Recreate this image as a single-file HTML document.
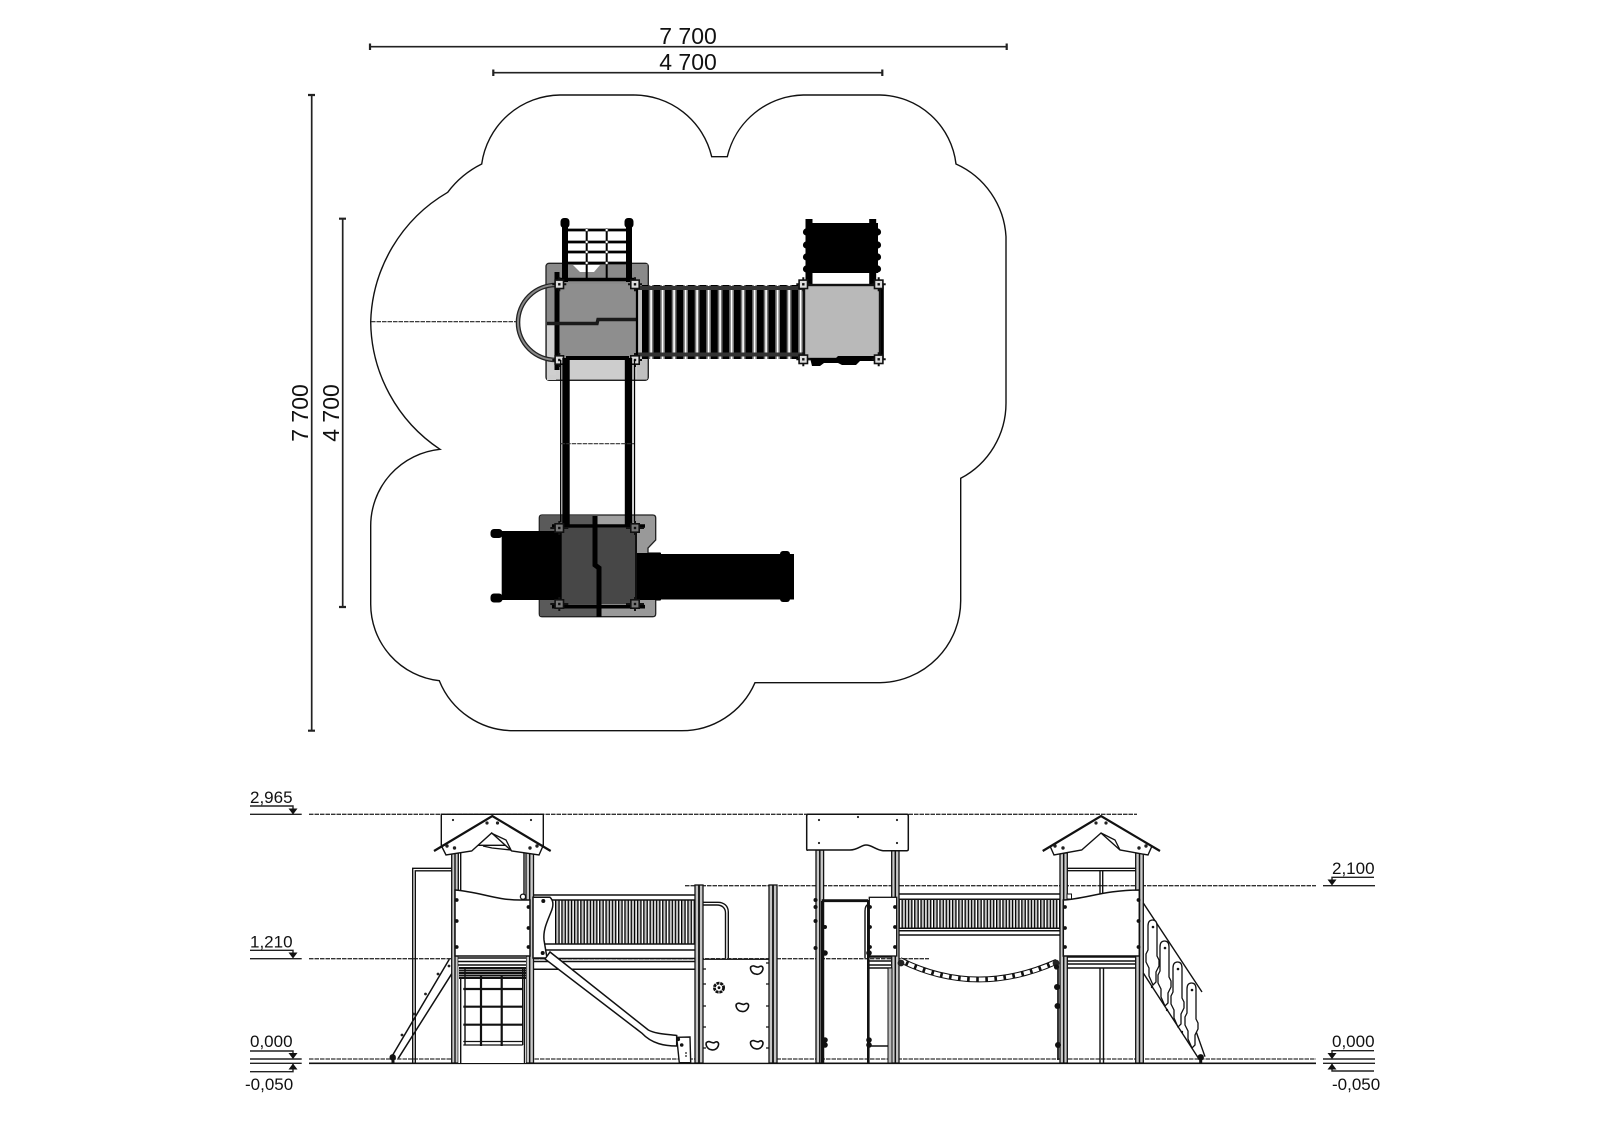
<!DOCTYPE html>
<html><head><meta charset="utf-8"><title>Playground plan</title>
<style>html,body{margin:0;padding:0;background:#fff}svg{display:block}text{font-family:"Liberation Sans",sans-serif;fill:#111}</style></head>
<body>
<svg xmlns="http://www.w3.org/2000/svg" width="1600" height="1121" viewBox="0 0 1600 1121">
<defs>
<pattern id="slat" x="642" y="0" width="11.5" height="10" patternUnits="userSpaceOnUse">
<rect width="11.5" height="10" fill="#777"/><rect width="6.7" height="10" fill="#000"/><rect x="8.3" width="1.6" height="10" fill="#fff"/></pattern>
<pattern id="bars" x="555" y="0" width="6.3" height="10" patternUnits="userSpaceOnUse">
<rect width="6.3" height="10" fill="#fff"/><rect x="0" width="3.6" height="10" fill="#c4c4c4"/><rect x="0" width="1.3" height="10" fill="#000"/><rect x="3.4" width="1.3" height="10" fill="#000"/></pattern>
<g id="bolt"><path d="M-7 0H7M0 -7V7" stroke="#111" stroke-width="2"/><rect x="-5" y="-5" width="10" height="10" fill="#111"/><rect x="-3.4" y="-3.4" width="6.8" height="6.8" fill="#ddd"/><rect x="-1.2" y="-1.2" width="2.4" height="2.4" fill="#111"/></g>
<g id="boltd"><path d="M-9 0H9M0 -7V7" stroke="#111" stroke-width="2"/><rect x="-5" y="-5" width="10" height="10" fill="#111"/><rect x="-3.4" y="-3.4" width="6.8" height="6.8" fill="#777"/><rect x="-1.2" y="-1.2" width="2.4" height="2.4" fill="#111"/></g>
<g id="hold"><path d="M-6 -3 C-3 -6 -1 -2 2 -3 C5 -5 7 -3 6 0 C5 3 2 5 -1 4 C-4 4 -7 0 -6 -3Z" fill="#fff" stroke="#111" stroke-width="1.6"/></g>
<path id="plank" d="M0 6Q0 0 4.5 0 9 0 9 6V36L11 40V46L8 52V62L5 65 1 56V48L-2 42V34L0 30Z" fill="#fff" stroke="#111" stroke-width="1.3"/>
</defs>
<rect width="1600" height="1121" fill="#fff"/>

<!-- dimensions -->
<g stroke="#222" stroke-width="1.7" fill="none">
<path d="M370 46.7H1006.7M493.3 72.7H882.3M311.7 95V730.7M342.7 218.7V607"/>
<path d="M370 43.5v6.5M1006.7 43.5v6.5M493.3 69.5v6.5M882.3 69.5v6.5M308 95h7M308 730.7h7M339 218.7h7M339 607h7" stroke-width="2.2"/>
</g>
<text x="688" y="44" font-size="23" text-anchor="middle">7 700</text>
<text x="688" y="70" font-size="23" text-anchor="middle">4 700</text>
<text transform="translate(308 413) rotate(-90)" font-size="23" text-anchor="middle">7 700</text>
<text transform="translate(339 413) rotate(-90)" font-size="23" text-anchor="middle">4 700</text>

<!-- surface outline -->
<path d="M370.7 321.7 A155 155 0 0 1 447.7 192.3 A95 95 0 0 1 481.7 164 A80 80 0 0 1 560 95 L633 95 A80 80 0 0 1 711.7 156.7 L727.3 156.7 A80 80 0 0 1 803.3 95 L880 95 A78 78 0 0 1 956 164 A85 85 0 0 1 1006 236.7 L1006 403 A85 85 0 0 1 960.7 478.3 L960.7 600 A82 82 0 0 1 880 682.7 L755 682.7 A80 80 0 0 1 680 730.7 L513.3 730.7 A80 80 0 0 1 439.3 680.7 A77 77 0 0 1 370.7 603.3 L370.7 526.7 A77 77 0 0 1 440 449.3 A155 155 0 0 1 370.7 321.7 Z" fill="#fff" stroke="#111" stroke-width="1.4"/>
<path d="M371 321.7H517" stroke="#222" stroke-width="1.2" stroke-dasharray="4.5 1" fill="none"/>

<!-- plan: tower 1 -->
<rect x="546" y="263.3" width="102.3" height="117" rx="3" fill="#8a8a8a" stroke="#222" stroke-width="1.3"/>
<path d="M547 324H556V380H547Z" fill="#cfcfcf"/>
<path d="M556 360H647V379.5H549V375H556Z" fill="#cdcdcd"/>
<path d="M637 285H647.5V379H637Z" fill="#c0c0c0"/>
<rect x="638" y="264" width="9.5" height="22" fill="#8a8a8a"/>
<rect x="560" y="284" width="75" height="75" fill="#8e8e8e"/>
<path d="M556 285 A38 37.5 0 0 0 556 360" fill="none" stroke="#222" stroke-width="4.6"/>
<path d="M556 285 A38 37.5 0 0 0 556 360" fill="none" stroke="#888" stroke-width="2"/>
<path d="M573 265H600L594 272H580Z" fill="#fff"/>
<g stroke="#000" fill="none">
<path d="M565 222V282M629 222V282" stroke-width="6"/>
<path d="M565 230H629M565 242H629M565 252H629M565 263H629" stroke-width="2.8"/>
<path d="M586.7 230V281M606.7 230V281" stroke-width="2"/>
<path d="M560 279.5H635" stroke-width="3.6"/>
<path d="M557 272V370" stroke-width="5"/>
<path d="M547 323.5H597L598 319.5H636" stroke-width="3.4" stroke="#1a1a1a"/>
<path d="M637 285V359" stroke-width="2.2"/>
<path d="M566 358H629" stroke-width="4"/>
</g>
<rect x="560.5" y="218" width="9" height="10" rx="3.5" fill="#000"/><rect x="624.5" y="218" width="9" height="10" rx="3.5" fill="#000"/>
<g fill="#fff" stroke="#333" stroke-width=".6"><circle cx="586.7" cy="230" r="1.4"/><circle cx="606.7" cy="230" r="1.4"/><circle cx="586.7" cy="242" r="1.4"/><circle cx="606.7" cy="242" r="1.4"/><circle cx="586.7" cy="252" r="1.4"/><circle cx="606.7" cy="252" r="1.4"/><circle cx="586.7" cy="263" r="1.4"/><circle cx="606.7" cy="263" r="1.4"/></g>

<!-- plan: bridge -->
<rect x="642" y="285" width="161" height="74" fill="url(#slat)"/>
<rect x="638" y="286" width="165" height="4" fill="#333"/>
<rect x="638" y="352.5" width="165" height="4" fill="#333"/>
<!-- plan: platform 2 -->
<rect x="804" y="285" width="76" height="74" fill="#b9b9b9" stroke="#111" stroke-width="2.4"/>
<rect x="881" y="284" width="2.8" height="76" fill="#000"/>
<rect x="806" y="223" width="72" height="50" fill="#000"/>
<path d="M809 219V284M872.7 219V284" stroke="#000" stroke-width="7"/>
<g fill="#000"><circle cx="806.5" cy="232" r="3.6"/><circle cx="877.5" cy="232" r="3.6"/><circle cx="806.5" cy="245" r="3.6"/><circle cx="877.5" cy="245" r="3.6"/><circle cx="806.5" cy="257" r="3.6"/><circle cx="877.5" cy="257" r="3.6"/><circle cx="806.5" cy="269" r="3.6"/><circle cx="877.5" cy="269" r="3.6"/></g>
<path d="M810 358H836L838 356H876V361H860L856 365H842L838 363H824L820 366H812Z" fill="#000"/>
<use href="#bolt" x="803.3" y="284.3"/><use href="#bolt" x="878.7" y="284.3"/><use href="#bolt" x="803.3" y="359.3"/><use href="#bolt" x="878.7" y="359.3"/>
<use href="#bolt" x="559.3" y="284.3"/><use href="#bolt" x="635" y="284.3"/><use href="#bolt" x="559.3" y="360"/><use href="#bolt" x="635" y="360"/>

<!-- plan: tower 3 -->
<path d="M542 515H652.7Q655.7 515 655.7 518V540L648 548V553H660V600H655.7V613.7Q655.7 616.7 652.7 616.7H542Q539.3 616.7 539.3 613.7V518Q539.3 515 542 515Z" fill="#999" stroke="#222" stroke-width="1.3"/>
<path d="M540 516H597V616H540Z" fill="#5a5a5a"/>
<rect x="597" y="516" width="28" height="10" fill="#a0a0a0"/>
<rect x="560" y="528" width="75" height="76" fill="#474747"/>
<rect x="501.7" y="531" width="60" height="69" fill="#000"/>
<rect x="490.5" y="529" width="12" height="9" rx="3.5" fill="#000"/><rect x="490.5" y="593.5" width="12" height="9" rx="3.5" fill="#000"/>
<rect x="637" y="553" width="24" height="47" fill="#000"/>
<rect x="655" y="554" width="139" height="45.5" fill="#000"/>
<rect x="780" y="551" width="10" height="51" rx="3" fill="#000"/>
<g stroke="#000" fill="none">
<path d="M595 516V565L599 568V617" stroke-width="5"/>
<path d="M552 526H645M552 606.7H645" stroke-width="3.6"/>
<path d="M636 530V600" stroke-width="1.8"/>
</g>

<!-- plan: tunnel -->
<g fill="none" stroke="#000">
<path d="M566 358V526M628.5 358V526" stroke-width="7.4"/>
<path d="M560.7 360V522M634.5 360V522" stroke-width="1.3"/>
</g>
<path d="M560.7 443.7H634" stroke="#333" stroke-width="1.2" stroke-dasharray="4.5 1"/>
<use href="#boltd" x="559.3" y="528"/><use href="#boltd" x="635" y="528"/><use href="#boltd" x="559.3" y="604"/><use href="#boltd" x="635" y="604"/>

<!-- elevation levels -->
<g stroke="#222" stroke-width="1.4" fill="none">
<path d="M250 814.3H301.7M250 806H293V813M250 958.7H301.7M250 950.3H293V957M250 1059H301.7M250 1063.3H301.7M250 1051H293V1058M250 1071.7H293V1064"/>
<path d="M1323 885.7H1375M1374 877.3H1332V884M1323 1059H1375M1323 1063.3H1375M1374 1050.7H1332V1058M1374 1071H1332V1064"/>
</g>
<g fill="#111"><path d="M288.5 808.5H297.5L293 814.5ZM288.5 952.5H297.5L293 958.5ZM288.5 1053H297.5L293 1059ZM288.5 1069.5H297.5L293 1063.5ZM1327.5 879.5H1336.5L1332 885.5ZM1327.5 1053H1336.5L1332 1059ZM1327.5 1069.5H1336.5L1332 1063.5Z"/></g>
<g font-size="17"><text x="250" y="803">2,965</text><text x="250" y="947.7">1,210</text><text x="250" y="1047">0,000</text><text x="245" y="1090">-0,050</text>
<text x="1332" y="874">2,100</text><text x="1332" y="1047">0,000</text><text x="1332" y="1090">-0,050</text></g>
<g stroke="#333" stroke-width="1.3" stroke-dasharray="4.5 1" fill="none">
<path d="M309 814.3H1137M309 958.7H929M685 885.7H1316M309 1059H1316"/>
</g>
<path d="M309 1063.3H1316" stroke="#111" stroke-width="1.7"/>

<!-- elevation: left frame -->
<g fill="none" stroke="#111" stroke-width="1.4">
<path d="M412.7 1063V868.3H452M415.3 1063V870.8H452"/>
</g>
<!-- ramp -->
<g fill="none" stroke="#111" stroke-width="1.5">
<path d="M391.7 1056.7L449.3 959.3M398.3 1058.3L452 973.3"/>
</g>
<circle cx="392.7" cy="1057.3" r="3.2" fill="#111"/><path d="M393 1058V1064" stroke="#111" stroke-width="3"/>
<g fill="#222"><circle cx="402" cy="1035" r="1.4"/><circle cx="413.5" cy="1014" r="1.4"/><circle cx="425.5" cy="994" r="1.4"/><circle cx="438" cy="974" r="1.4"/><circle cx="449" cy="966" r="1.4"/></g>

<!-- left tower -->
<rect x="441.3" y="814.3" width="102" height="31" fill="#fff" stroke="#111" stroke-width="1.4"/>
<g fill="#222"><circle cx="453" cy="820" r="1.1"/><circle cx="531" cy="820" r="1.1"/></g>
<g stroke="#111" fill="#c8c8c8" stroke-width="1.3">
<rect x="451.7" y="852" width="6.6" height="211"/><rect x="526" y="852" width="7.5" height="211"/>
</g>
<path d="M455 852V1063M529.7 852V1063M460.7 852V956M524 852V956" stroke="#111" stroke-width="1.4" fill="none"/>
<rect x="458.3" y="956" width="67.7" height="107" fill="#fff"/>
<path d="M492 818L436 851 445 853.3 447 855 471.7 851 491.7 833 511.7 851 538 855 540 853.3 549 851Z" fill="#fff"/>
<path d="M441.5 846L446 855 471.7 851 491.7 833 511.7 851 539 855 543 846" fill="none" stroke="#111" stroke-width="1.4"/>
<path d="M434 851L492.3 816 550.7 851" fill="none" stroke="#111" stroke-width="2.2"/>
<path d="M491 833L506 840 511 850 492 848 483 846" fill="none" stroke="#111" stroke-width="1.3"/>
<g fill="#222"><circle cx="447" cy="846" r="1.7"/><circle cx="454.5" cy="848" r="1.7"/><circle cx="530" cy="848" r="1.7"/><circle cx="537" cy="846" r="1.7"/><circle cx="487" cy="823" r="1.6"/><circle cx="497.5" cy="823" r="1.6"/></g>
<path d="M455 890C480 892 495 900 520 900H530V956H455Z" fill="#fff" stroke="#111" stroke-width="1.5"/>
<g fill="#111"><circle cx="456.7" cy="900" r="1.9"/><circle cx="456.7" cy="921" r="1.9"/><circle cx="456.7" cy="947" r="1.9"/><circle cx="528.5" cy="907" r="1.9"/><circle cx="528.5" cy="928" r="1.9"/><circle cx="528.5" cy="947" r="1.9"/></g>
<circle cx="523" cy="896.7" r="2.6" fill="#fff" stroke="#111" stroke-width="1.3"/>
<!-- net -->
<g stroke="#111" fill="none">
<path d="M458 958H526M458 961.5H526M458 965H526" stroke-width="1.5"/>
<path d="M459 968H526M459 970.5H526M459 973H526M459 975.5H526M459 978H526" stroke-width="2"/>
<path d="M460.7 978V1063M465 968V1045M522.7 968V1045M524.5 968V1063" stroke-width="1.4"/>
<path d="M463.3 989H522.7M463.3 1006.7H522.7M463.3 1024.7H522.7" stroke-width="2.2"/>
<path d="M463.3 1041.5H522.7M463.3 1045H522.7" stroke-width="1.3"/>
<path d="M481 976V1046M501.7 976V1046" stroke-width="2.2"/>
</g>

<!-- left bridge -->
<rect x="555" y="900" width="140" height="44" fill="url(#bars)"/>
<g stroke="#111" fill="none" stroke-width="1.5">
<path d="M534 895H695M534 900H695M534 944H695M545 950H695M534 958.5H695M534 961.5H695M534 969.3H695"/>
</g>
<path d="M533 897.3H550C553 900 554 905 551 912C547 922 543 930 544 940L547 958H533Z" fill="#fff" stroke="#111" stroke-width="1.5"/>
<circle cx="543.3" cy="901" r="2" fill="#111"/><circle cx="542.7" cy="953" r="2" fill="#111"/>
<!-- slide -->
<path d="M545 959L550 952 648.3 1030C656 1034 665 1034 676.7 1035.5V1046C665 1046 652 1044 641.7 1033Z" fill="#fff" stroke="#111" stroke-width="1.5"/>
<path d="M676.7 1037.3L690 1037 690.7 1062.7H679.3Z" fill="#fff" stroke="#111" stroke-width="1.4"/>
<circle cx="678.3" cy="1039.3" r="1.8" fill="#111"/><circle cx="681.7" cy="1045" r="1.8" fill="#111"/><circle cx="686" cy="1053" r=".9" fill="#111"/><circle cx="686" cy="1056" r=".9" fill="#111"/>
<!-- handrail -->
<path d="M703 902.3H718C724 902.3 728.3 906 728.3 912V958M703 905H717C722 905 725.5 908 725.5 913V958" fill="none" stroke="#111" stroke-width="1.4"/>

<!-- climbing wall -->
<rect x="698.3" y="959.3" width="75" height="104" fill="#fff" stroke="#111" stroke-width="1.2"/>
<g stroke="#111" fill="#c4c4c4" stroke-width="1.3">
<rect x="695" y="885" width="8" height="178"/><rect x="769" y="885" width="8" height="178"/>
</g>
<path d="M699 885V1063M773 885V1063" stroke="#111" stroke-width="1.8"/>
<g stroke="#111" stroke-width="1.2"><path d="M703 969h3M703 984h3M703 1006h3M703 1027h3M703 1048h3M766 963h3M766 984h3M766 1006h3M766 1027h3M766 1048h3"/></g>
<use href="#hold" x="756.7" y="970"/><use href="#hold" x="742.3" y="1007.3"/><use href="#hold" x="712.3" y="1045.7"/><use href="#hold" x="756.7" y="1044.7"/>
<circle cx="719" cy="987.7" r="4.6" fill="#fff" stroke="#111" stroke-width="2.8" stroke-dasharray="3 .8"/>
<circle cx="719" cy="987.7" r="1.4" fill="#111"/>

<!-- right section: tower 2 -->
<g stroke="#111" fill="#c8c8c8" stroke-width="1.3">
<rect x="816" y="850" width="7.6" height="213"/><rect x="891.7" y="850" width="7.3" height="213"/>
</g>
<path d="M819.8 850V1063M895.3 850V1063" stroke="#111" stroke-width="1.5"/>
<path d="M808 814.3H907Q908.3 814.3 908.3 816V849Q908.3 850.7 907 850.7H883C876 850 872 845 866 845 861 845 858 850 850 850H808Q806.7 850.7 806.7 849V816Q806.7 814.3 808 814.3Z" fill="#fff" stroke="#111" stroke-width="1.5"/>
<g fill="#222"><circle cx="819" cy="820" r="1.1"/><circle cx="858" cy="817" r="1.1"/><circle cx="897" cy="820" r="1.1"/><circle cx="819" cy="843" r="1.1"/><circle cx="897" cy="843" r="1.1"/></g>
<path d="M821.7 900.7H868" stroke="#111" stroke-width="2.8"/>
<path d="M822 901V1063" stroke="#111" stroke-width="2"/>
<path d="M868.3 900V1063" stroke="#111" stroke-width="2.6"/>
<path d="M865 958V911Q865 905 869 904" fill="none" stroke="#111" stroke-width="1.4"/>
<rect x="869.3" y="897.3" width="27.4" height="58.7" fill="#fff" stroke="#111" stroke-width="1.3"/>
<g fill="#111"><circle cx="895" cy="907" r="1.9"/><circle cx="895" cy="927" r="1.9"/><circle cx="895" cy="947" r="1.9"/><circle cx="870" cy="907" r="1.9"/><circle cx="870" cy="927" r="1.9"/><circle cx="870" cy="947" r="1.9"/>
<circle cx="815.5" cy="900" r="2"/><circle cx="815.5" cy="907" r="2"/><circle cx="815.5" cy="921" r="2"/><circle cx="825" cy="927" r="2"/><circle cx="815.5" cy="948" r="2"/><circle cx="825" cy="953" r="2.8"/><circle cx="825" cy="1040" r="2.8"/><circle cx="825" cy="1045" r="2.8"/><circle cx="869" cy="953" r="2.8"/><circle cx="869" cy="1040" r="2.8"/><circle cx="869" cy="1045" r="2.8"/></g>
<g stroke="#111" fill="none" stroke-width="1.5"><path d="M869 957H891M869 961H891M869 965H891M869 968H891M869 1046H888"/></g>
<rect x="888" y="968" width="4" height="95" fill="#bbb" stroke="#111" stroke-width="1"/>

<!-- right bridge -->
<rect x="899" y="899.3" width="161" height="29" fill="url(#bars)"/>
<path d="M899 894H1060M899 899.3H1060M899 928.3H1060M899 930.7H1060M899 935H1060" stroke="#111" stroke-width="1.5" fill="none"/>
<path d="M900 960Q976 998 1056.7 961.7" fill="none" stroke="#111" stroke-width="5.8"/>
<path d="M900 960Q976 998 1056.7 961.7" fill="none" stroke="#fff" stroke-width="3.8" stroke-dasharray="6.5 2.6"/>
<circle cx="901" cy="963" r="3.4" fill="#222"/><circle cx="1056" cy="963" r="3.4" fill="#222"/>

<!-- right tower -->
<g stroke="#111" fill="#c8c8c8" stroke-width="1.3">
<rect x="1060" y="853" width="7.3" height="210"/><rect x="1135.7" y="853" width="7.6" height="210"/>
</g>
<path d="M1063.7 853V1063M1139.5 853V1063" stroke="#111" stroke-width="1.5"/>
<path d="M1101 819L1049 851 1052 855 1081.7 850 1101 833 1120 850 1150 855 1153 851Z" fill="#fff"/>
<path d="M1050 846L1054 855 1081.7 850 1101 833 1120 850 1148 855 1152 846" fill="none" stroke="#111" stroke-width="1.4"/>
<path d="M1042.7 851L1101 816 1160 851" fill="none" stroke="#111" stroke-width="2.2"/>
<path d="M1101 833L1115 840 1120 850" fill="none" stroke="#111" stroke-width="1.3"/>
<g fill="#222"><circle cx="1055" cy="846" r="1.7"/><circle cx="1063" cy="848" r="1.7"/><circle cx="1139" cy="848" r="1.7"/><circle cx="1146" cy="846" r="1.7"/><circle cx="1096" cy="823" r="1.6"/><circle cx="1106" cy="823" r="1.6"/></g>
<path d="M1067 868.3H1136M1067 870.7H1136M1100 870V900M1102.7 870V900M1100 968V1063M1103.5 968V1063" stroke="#111" stroke-width="1.4" fill="none"/>
<path d="M1063.3 900C1085 899 1105 890 1139.3 890V956H1063.3Z" fill="#fff" stroke="#111" stroke-width="1.5"/>
<rect x="1067" y="894" width="4.5" height="5" fill="#fff" stroke="#111"/>
<g fill="#111"><circle cx="1065" cy="907" r="1.9"/><circle cx="1065" cy="928" r="1.9"/><circle cx="1065" cy="947" r="1.9"/><circle cx="1138.5" cy="900" r="1.9"/><circle cx="1138.5" cy="921" r="1.9"/><circle cx="1138.5" cy="947" r="1.9"/>
<circle cx="1056.5" cy="967" r="2.6"/><circle cx="1057" cy="987" r="3"/><circle cx="1057.5" cy="1006" r="3"/><circle cx="1058" cy="1045" r="3"/></g>
<path d="M1058 965V1060" stroke="#111" stroke-width="1.7"/>
<path d="M1067 957H1136M1067 961H1136M1067 964H1136M1067 968H1136" stroke="#111" stroke-width="1.5" fill="none"/>

<!-- right stairs -->
<path d="M1143.3 903L1202 992M1143.3 973L1198.3 1058M1192 1020L1205 1056.7" fill="none" stroke="#111" stroke-width="1.4"/>
<use href="#plank" x="1148" y="920"/><use href="#plank" x="1160" y="941"/><use href="#plank" x="1173" y="962"/><use href="#plank" x="1187" y="983"/>
<g fill="#111"><circle cx="1153" cy="927" r="1.3"/><circle cx="1165" cy="948" r="1.3"/><circle cx="1178" cy="969" r="1.3"/><circle cx="1192" cy="990" r="1.3"/><circle cx="1152" cy="987" r="1.2"/><circle cx="1167" cy="1010" r="1.2"/><circle cx="1182" cy="1032" r="1.2"/></g>
<circle cx="1200.7" cy="1057.3" r="3.2" fill="#111"/><path d="M1200.7 1058V1064" stroke="#111" stroke-width="3"/>
</svg>
</body></html>
